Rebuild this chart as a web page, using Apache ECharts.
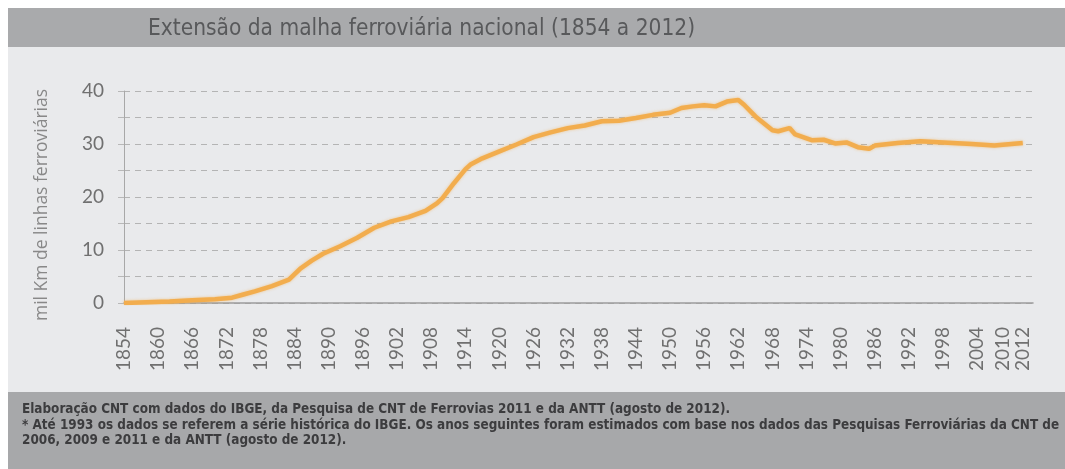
<!DOCTYPE html>
<html>
<head>
<meta charset="utf-8">
<script src="https://cdn.jsdelivr.net/npm/echarts@6/dist/echarts.min.js"></script>
<style>
  html, body { margin: 0; padding: 0; background: #fff; }
  #chart { width: 1065px; height: 469px; }
</style>
</head>
<body>
<div id="chart"></div>
<script>
// anos e extensão (mil km)
var anos = [1854,1858,1862,1866,1870,1873,1875,1877,1880,1883,1885,1887,1889,1892,1895,1898,1901,1904,1907,1909,1910,1912,1914,1915,1917,1920,1923,1926,1929,1932,1935,1938,1941,1944,1947,1950,1952,1954,1956,1958,1960,1962,1963,1965,1968,1969,1971,1972,1975,1977,1979,1981,1983,1985,1986,1990,1994,1998,2003,2007,2010,2012];
var extensao = [0.0,0.15,0.3,0.5,0.7,1.0,1.6,2.2,3.2,4.4,6.5,8.0,9.3,10.7,12.3,14.2,15.4,16.2,17.4,18.8,19.8,22.6,25.2,26.2,27.3,28.6,29.9,31.3,32.2,33.0,33.5,34.3,34.4,34.9,35.5,35.9,36.8,37.1,37.3,37.1,38.0,38.3,37.4,35.2,32.6,32.4,33.0,31.8,30.7,30.8,30.1,30.3,29.4,29.1,29.7,30.2,30.5,30.3,30.0,29.7,30.0,30.2];
// rótulos do eixo x
var rotulosX = [1854,1860,1866,1872,1878,1884,1890,1896,1902,1908,1914,1920,1926,1932,1938,1944,1950,1956,1962,1968,1974,1980,1986,1992,1998,2004,2010,2012];
var rotulosY = [0,10,20,30,40];

var titulo = 'Extensão da malha ferroviária nacional (1854 a 2012)';
var nomeEixoY = 'mil Km de linhas ferroviárias';
var nota1 = 'Elaboração CNT com dados do IBGE, da Pesquisa de CNT de Ferrovias 2011 e da ANTT (agosto de 2012).';
var nota2 = '* Até 1993 os dados se referem a série histórica do IBGE. Os anos seguintes foram estimados com base nos dados das Pesquisas Ferroviárias da CNT de';
var nota3 = '2006, 2009 e 2011 e da ANTT (agosto de 2012).';

var pontos = [];
for (var i = 0; i < anos.length; i++) {
	pontos.push([anos[i], extensao[i]]);
}

var fonteNota = 'bold 13.4px "DejaVu Sans Condensed", sans-serif';

var chart = echarts.init(document.getElementById('chart'));
var option = {
	animation: false,
	backgroundColor: '#ffffff',
	graphic: [
		{ type: 'rect', z: -10, shape: { x: 8, y: 8, width: 1057, height: 39 }, style: { fill: '#a9aaac' } },
		{ type: 'rect', z: -10, shape: { x: 8, y: 47, width: 1057, height: 345 }, style: { fill: '#e9eaec' } },
		{ type: 'rect', z: -10, shape: { x: 8, y: 392, width: 1057, height: 77 }, style: { fill: '#a7a8aa' } },
		{ type: 'text', left: 148, top: 18, style: { text: titulo, fill: '#58595b', font: '22.5px "DejaVu Sans Condensed", sans-serif' } },
		// título do eixo y, girado
		{ type: 'text', x: 42, y: 205, rotation: Math.PI / 2,
		  style: { text: nomeEixoY, fill: '#888888', font: '17.5px "Open Sans", sans-serif', align: 'center', verticalAlign: 'middle' } },
		{ type: 'text', left: 22, top: 403, style: { text: nota1, fill: '#3c3c3e', font: fonteNota } },
		{ type: 'text', left: 22, top: 419, style: { text: nota2, fill: '#3c3c3e', font: fonteNota } },
		{ type: 'text', left: 22, top: 434, style: { text: nota3, fill: '#3c3c3e', font: fonteNota } }
	],
	grid: { left: 124, right: 32, top: 91, bottom: 166, containLabel: false },
	xAxis: {
		type: 'value',
		min: 1854,
		max: 2013.8,
		axisLine: { show: true, lineStyle: { color: '#9c9c9c', width: 1.5 } },
		axisTick: { show: false },
		splitLine: { show: false },
		axisLabel: {
			customValues: rotulosX,
			rotate: 90,
			margin: 24,
			hideOverlap: false,
			color: '#707070',
			fontSize: 19,
			fontFamily: 'Lato',
			formatter: function (v) {
				// 2010 fica um pouco à esquerda, como no original
				if (v === 2010) return '{a|' + v + '}';
				return String(v);
			},
			rich: {
				a: { fontSize: 19, fontFamily: 'Lato', color: '#707070', padding: [0, 0, 18, 0] }
			}
		}
	},
	yAxis: {
		type: 'value',
		min: 0,
		max: 40,
		interval: 5,
		axisLine: { show: true, lineStyle: { color: '#a8a8a8', width: 1 } },
		axisTick: { show: true, length: 6, lineStyle: { color: '#b8b8b8' } },
		axisLabel: {
			margin: 20,
			color: '#707070',
			fontSize: 19,
			fontFamily: 'Lato',
			formatter: function (v) { return rotulosY.indexOf(v) >= 0 ? String(v) : ''; }
		},
		splitLine: { show: true, lineStyle: { color: '#b4b4b4', type: [6, 5], width: 1 } }
	},
	series: [
		{
			type: 'line',
			data: pontos,
			symbol: 'none',
			smooth: false,
			lineStyle: { color: '#f2ad4e', width: 4.5, shadowBlur: 3, shadowColor: 'rgba(242,173,78,0.6)' }
		}
	]
};
chart.setOption(option);
</script>
</body>
</html>
